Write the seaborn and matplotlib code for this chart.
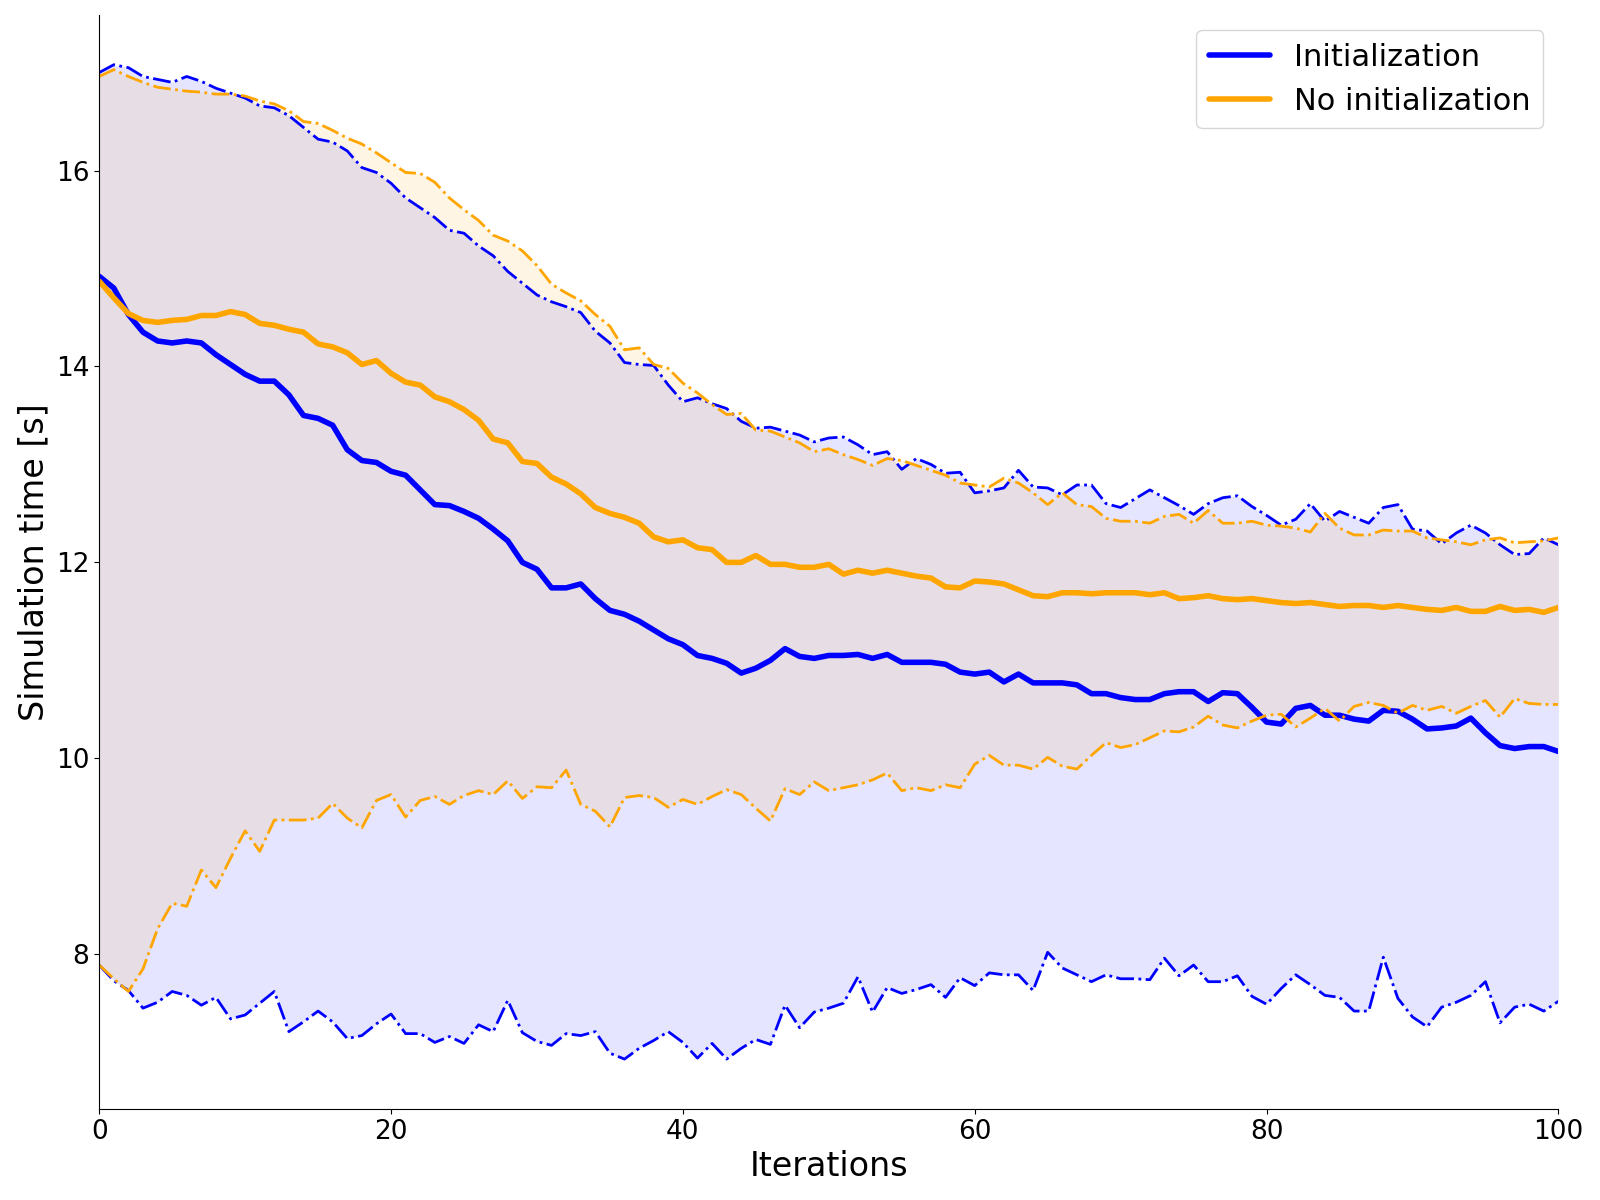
import numpy as np
import matplotlib
matplotlib.use('Agg')
import matplotlib.pyplot as plt
import seaborn as sns

# iteration index (x axis)
iterations = np.arange(101)

# mean simulation time per iteration
init_mean = [14.92, 14.80, 14.53, 14.35, 14.26, 14.24, 14.26, 14.24, 14.12, 14.02,
             13.92, 13.85, 13.85, 13.71, 13.50, 13.47, 13.40, 13.15, 13.04, 13.02,
             12.93, 12.89, 12.74, 12.59, 12.58, 12.52, 12.45, 12.34, 12.22, 12.00,
             11.93, 11.74, 11.74, 11.78, 11.63, 11.51, 11.47, 11.40, 11.31, 11.22,
             11.16, 11.05, 11.02, 10.97, 10.87, 10.92, 11.00, 11.12, 11.04, 11.02,
             11.05, 11.05, 11.06, 11.02, 11.06, 10.98, 10.98, 10.98, 10.96, 10.88,
             10.86, 10.88, 10.78, 10.86, 10.77, 10.77, 10.77, 10.75, 10.66, 10.66,
             10.62, 10.60, 10.60, 10.66, 10.68, 10.68, 10.58, 10.67, 10.66, 10.52,
             10.37, 10.35, 10.51, 10.54, 10.44, 10.44, 10.40, 10.38, 10.49, 10.48,
             10.40, 10.30, 10.31, 10.33, 10.41, 10.26, 10.13, 10.10, 10.12, 10.12, 10.07]

noinit_mean = [14.87, 14.70, 14.54, 14.47, 14.45, 14.47, 14.48, 14.52, 14.52, 14.56,
               14.53, 14.44, 14.42, 14.38, 14.35, 14.23, 14.20, 14.14, 14.02, 14.06,
               13.93, 13.84, 13.81, 13.69, 13.64, 13.56, 13.45, 13.26, 13.22, 13.03,
               13.01, 12.87, 12.80, 12.70, 12.56, 12.50, 12.46, 12.40, 12.26, 12.21,
               12.23, 12.15, 12.13, 12.00, 12.00, 12.07, 11.98, 11.98, 11.95, 11.95,
               11.98, 11.88, 11.92, 11.89, 11.92, 11.89, 11.86, 11.84, 11.75, 11.74,
               11.81, 11.80, 11.78, 11.72, 11.66, 11.65, 11.69, 11.69, 11.68, 11.69,
               11.69, 11.69, 11.67, 11.69, 11.63, 11.64, 11.66, 11.63, 11.62, 11.63,
               11.61, 11.59, 11.58, 11.59, 11.57, 11.55, 11.56, 11.56, 11.54, 11.56,
               11.54, 11.52, 11.51, 11.54, 11.50, 11.50, 11.55, 11.51, 11.52, 11.49, 11.54]

# upper / lower bounds of the band
init_upper = [17.00, 17.08, 17.05, 16.96, 16.93, 16.90, 16.96, 16.91, 16.84, 16.79,
              16.74, 16.66, 16.64, 16.56, 16.44, 16.32, 16.29, 16.20, 16.03, 15.98,
              15.87, 15.72, 15.62, 15.52, 15.39, 15.36, 15.23, 15.13, 14.97, 14.85,
              14.73, 14.66, 14.61, 14.55, 14.36, 14.24, 14.04, 14.02, 14.01, 13.81,
              13.64, 13.68, 13.62, 13.57, 13.44, 13.37, 13.38, 13.34, 13.30, 13.23,
              13.27, 13.28, 13.20, 13.10, 13.13, 12.95, 13.06, 13.00, 12.91, 12.92,
              12.71, 12.73, 12.76, 12.94, 12.77, 12.76, 12.69, 12.79, 12.79, 12.60,
              12.56, 12.65, 12.74, 12.66, 12.58, 12.49, 12.60, 12.66, 12.68, 12.57,
              12.48, 12.38, 12.44, 12.60, 12.42, 12.52, 12.46, 12.40, 12.56, 12.59,
              12.34, 12.32, 12.19, 12.30, 12.38, 12.30, 12.18, 12.08, 12.09, 12.25, 12.18]

noinit_upper = [16.96, 17.03, 16.96, 16.90, 16.85, 16.83, 16.81, 16.80, 16.78, 16.78,
                16.76, 16.71, 16.68, 16.61, 16.50, 16.48, 16.41, 16.33, 16.27, 16.18,
                16.08, 15.98, 15.97, 15.88, 15.72, 15.60, 15.49, 15.34, 15.28, 15.18,
                15.03, 14.84, 14.75, 14.67, 14.53, 14.41, 14.17, 14.19, 14.02, 13.98,
                13.83, 13.73, 13.61, 13.51, 13.52, 13.35, 13.34, 13.28, 13.22, 13.13,
                13.16, 13.10, 13.05, 12.99, 13.06, 13.04, 12.99, 12.94, 12.89, 12.81,
                12.79, 12.77, 12.86, 12.81, 12.71, 12.59, 12.71, 12.59, 12.57, 12.45,
                12.42, 12.42, 12.40, 12.47, 12.49, 12.40, 12.53, 12.40, 12.40, 12.42,
                12.38, 12.37, 12.35, 12.31, 12.50, 12.35, 12.28, 12.28, 12.33, 12.32,
                12.32, 12.25, 12.23, 12.21, 12.18, 12.23, 12.25, 12.20, 12.21, 12.22, 12.25]

init_lower = [7.89, 7.73, 7.63, 7.45, 7.51, 7.62, 7.58, 7.48, 7.56, 7.34,
              7.38, 7.50, 7.62, 7.21, 7.31, 7.42, 7.31, 7.14, 7.17, 7.29,
              7.39, 7.19, 7.19, 7.10, 7.16, 7.09, 7.28, 7.21, 7.53, 7.20,
              7.11, 7.07, 7.19, 7.17, 7.21, 6.99, 6.93, 7.04, 7.12, 7.21,
              7.10, 6.94, 7.09, 6.93, 7.04, 7.13, 7.08, 7.48, 7.25, 7.41,
              7.45, 7.50, 7.77, 7.41, 7.66, 7.60, 7.64, 7.69, 7.56, 7.76,
              7.68, 7.81, 7.79, 7.79, 7.63, 8.02, 7.86, 7.79, 7.72, 7.79,
              7.75, 7.75, 7.74, 7.96, 7.78, 7.89, 7.72, 7.72, 7.78, 7.57,
              7.49, 7.65, 7.79, 7.69, 7.58, 7.56, 7.42, 7.42, 7.97, 7.55,
              7.36, 7.26, 7.46, 7.51, 7.58, 7.72, 7.30, 7.46, 7.49, 7.42, 7.52]

noinit_lower = [7.89, 7.75, 7.62, 7.85, 8.26, 8.52, 8.49, 8.86, 8.68, 8.98,
                9.26, 9.05, 9.37, 9.37, 9.37, 9.39, 9.54, 9.39, 9.29, 9.57,
                9.63, 9.40, 9.57, 9.61, 9.53, 9.62, 9.67, 9.63, 9.77, 9.59,
                9.71, 9.70, 9.88, 9.53, 9.46, 9.30, 9.60, 9.62, 9.60, 9.50,
                9.58, 9.53, 9.61, 9.68, 9.63, 9.49, 9.36, 9.69, 9.63, 9.76,
                9.67, 9.70, 9.73, 9.78, 9.85, 9.67, 9.70, 9.67, 9.73, 9.70,
                9.94, 10.03, 9.93, 9.93, 9.89, 10.01, 9.92, 9.89, 10.03, 10.16,
                10.11, 10.14, 10.21, 10.28, 10.27, 10.32, 10.43, 10.34, 10.31, 10.38,
                10.44, 10.45, 10.32, 10.41, 10.51, 10.38, 10.53, 10.57, 10.54, 10.46,
                10.54, 10.49, 10.53, 10.46, 10.53, 10.59, 10.42, 10.61, 10.56, 10.55, 10.55]

sns.set_style('ticks')
plt.rcParams['font.family'] = ['DejaVu Sans']
# plain black text and ticks like matplotlib defaults
plt.rcParams['text.color'] = 'black'
plt.rcParams['axes.labelcolor'] = 'black'
plt.rcParams['axes.edgecolor'] = 'black'
plt.rcParams['xtick.color'] = 'black'
plt.rcParams['ytick.color'] = 'black'

fig, ax = plt.subplots(figsize=(16, 12), dpi=100)

# shaded bands
ax.fill_between(iterations, init_lower, init_upper, color='blue', alpha=0.1, linewidth=0)
ax.fill_between(iterations, noinit_lower, noinit_upper, color='orange', alpha=0.1, linewidth=0)

# Initialization: mean + bounds
sns.lineplot(x=iterations, y=init_mean, color='blue', linewidth=4, ax=ax)
sns.lineplot(x=iterations, y=init_upper, color='blue', linewidth=2, linestyle='-.', ax=ax)
sns.lineplot(x=iterations, y=init_lower, color='blue', linewidth=2, linestyle='-.', ax=ax)
# No initialization: mean + bounds
sns.lineplot(x=iterations, y=noinit_mean, color='orange', linewidth=4, ax=ax)
sns.lineplot(x=iterations, y=noinit_upper, color='orange', linewidth=2, linestyle='-.', ax=ax)
sns.lineplot(x=iterations, y=noinit_lower, color='orange', linewidth=2, linestyle='-.', ax=ax)

ax.legend([ax.lines[0], ax.lines[3]], ['Initialization', 'No initialization'],
          loc='upper right', fontsize=22)

ax.set_xlim(0, 100)
ax.set_xlabel('Iterations', fontsize=24)
ax.set_ylabel('Simulation time [s]', fontsize=24)
ax.tick_params(labelsize=19, colors='black')
sns.despine(ax=ax)

plt.subplots_adjust(left=0.062, right=0.974, top=0.9875, bottom=0.076)
plt.savefig('out.png', dpi=100)
